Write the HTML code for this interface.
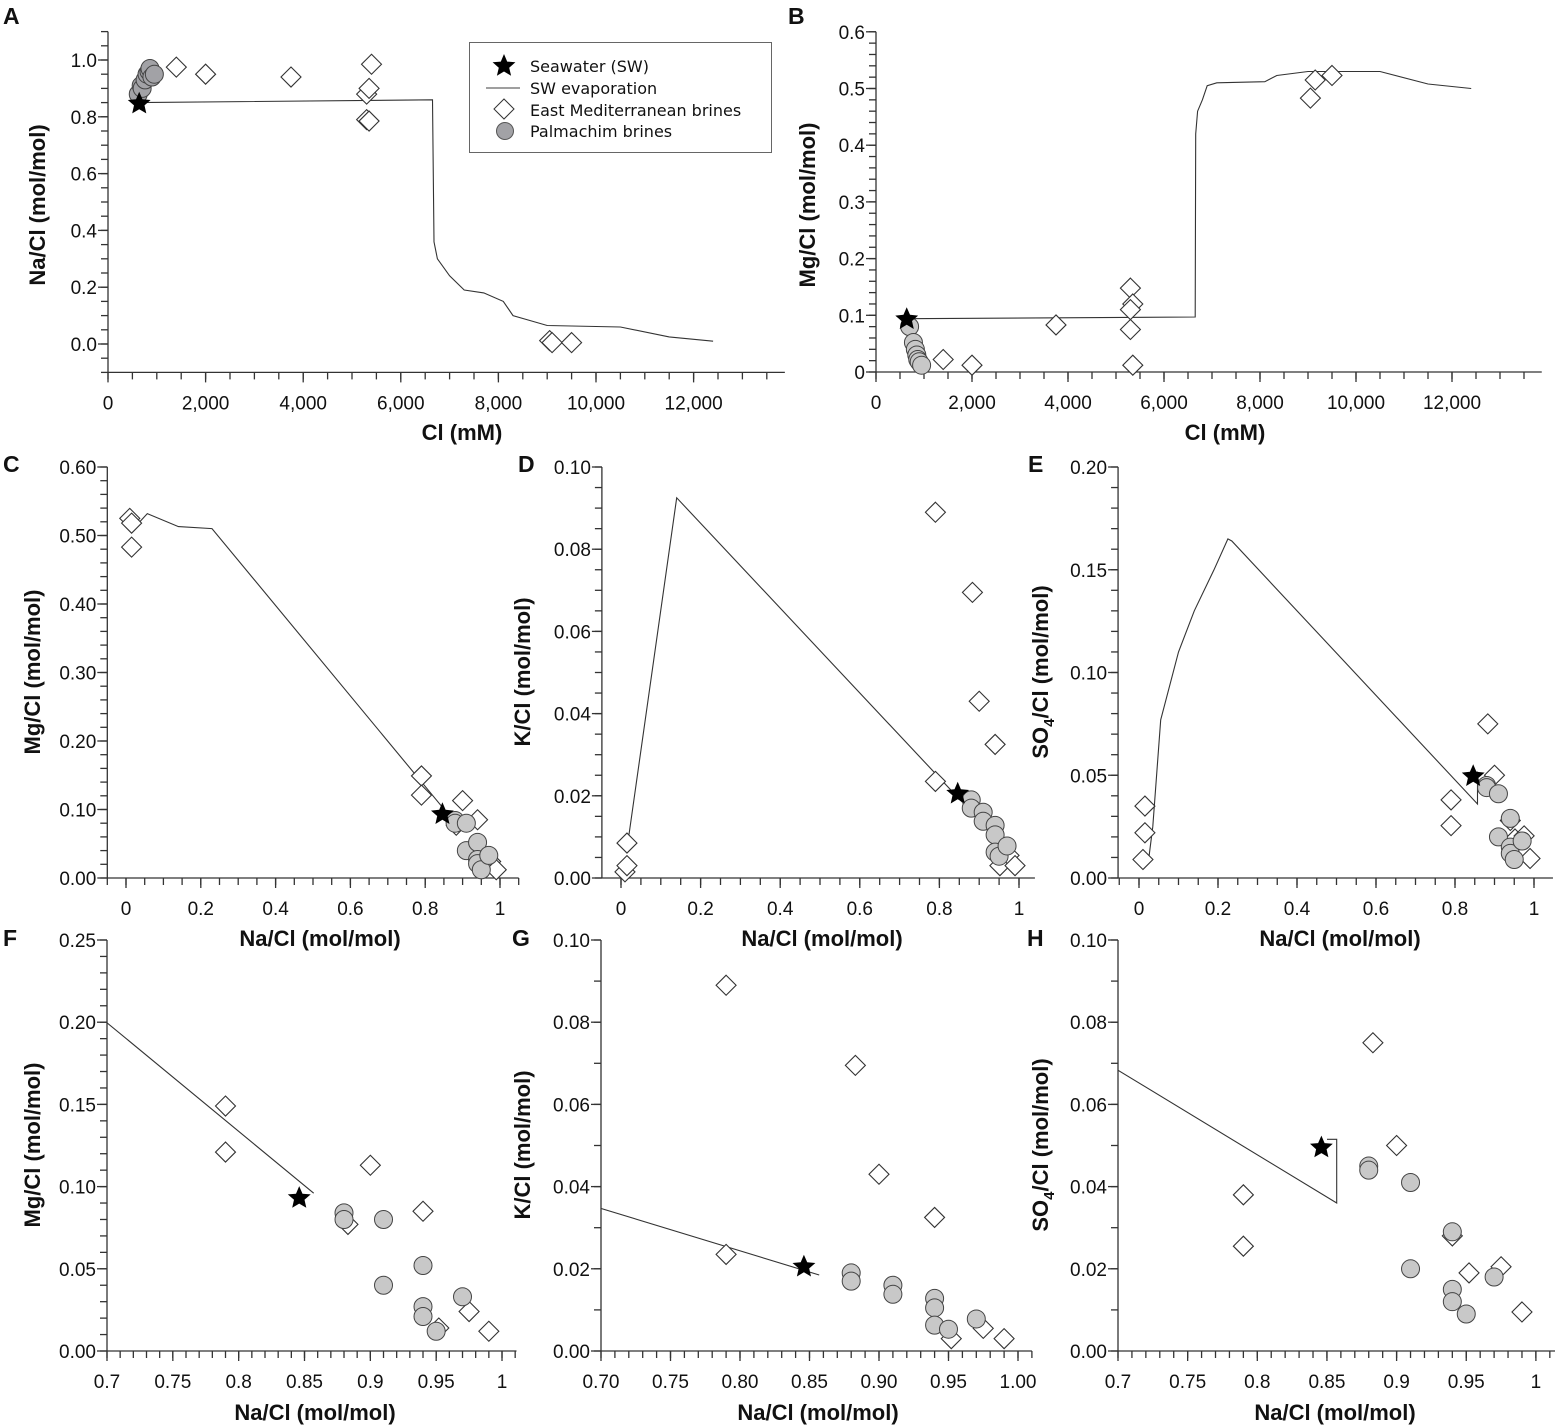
<!DOCTYPE html>
<html><head><meta charset="utf-8">
<style>
html,body{margin:0;padding:0;background:#fff;}
svg{display:block;}
text{font-family:"Liberation Sans",Arial,sans-serif;fill:#111;}
.tick{font-size:19px;}
.title{font-size:22px;font-weight:bold;}
.plab{font-size:23px;font-weight:bold;}
.leg{font-family:"DejaVu Sans",sans-serif;font-size:16px;}
</style></head>
<body>
<svg id="fig" width="1555" height="1426" viewBox="0 0 1555 1426" xmlns="http://www.w3.org/2000/svg">
<defs></defs>
</svg>
<script>
// ---------- DATA ----------
// Seawater
const swCl = 640, swNa = 0.846, swMg = 0.093, swK = 0.0205, swSO4 = 0.0495;
// Panel A/B: East Mediterranean brines vs Cl
const emClA = [1400, 2000, 3750, 5300, 5350, 5300, 5350, 5400, 9050, 9100, 9500];
const emNaA = [0.975, 0.95, 0.94, 0.79, 0.785, 0.88, 0.9, 0.985, 0.012, 0.005, 0.005];
const emClB = [1400, 2000, 3750, 5300, 5350, 5300, 5300, 5350, 9050, 9150, 9500];
const emMgB = [0.022, 0.012, 0.083, 0.148, 0.12, 0.11, 0.075, 0.012, 0.483, 0.515, 0.523];
// Palmachim vs Cl
const palClA = [620, 680, 700, 760, 800, 840, 860, 900, 950];
const palNaA = [0.88, 0.91, 0.9, 0.93, 0.95, 0.96, 0.97, 0.94, 0.95];
const palClB = [700, 780, 820, 850, 870, 900, 950];
const palMgB = [0.08, 0.052, 0.04, 0.03, 0.022, 0.018, 0.012];
// SW evaporation vs Cl
const evClA = [620, 6650, 6680, 6750, 7000, 7300, 7700, 8100, 8300, 8600, 9000, 10500, 11500, 12400];
const evNaA = [0.85, 0.86, 0.36, 0.3, 0.24, 0.19, 0.18, 0.15, 0.1, 0.085, 0.065, 0.06, 0.025, 0.01];
const evClB = [650, 6650, 6660, 6700, 6800, 6900, 7100, 8100, 8350, 9000, 10500, 11500, 12400];
const evMgB = [0.094, 0.097, 0.42, 0.46, 0.48, 0.505, 0.51, 0.512, 0.523, 0.53, 0.53, 0.508, 0.5];
// East Mediterranean brines (ratios)
const emNa = [0.01, 0.015, 0.015, 0.79, 0.79, 0.883, 0.9, 0.94, 0.952, 0.975, 0.99];
const emMg = [0.525, 0.518, 0.483, 0.149, 0.121, 0.077, 0.113, 0.085, 0.014, 0.024, 0.012];
const emK  = [0.0015, 0.003, 0.0085, 0.089, 0.0235, 0.0695, 0.043, 0.0325, 0.003, 0.0055, 0.003];
const emSO4 = [0.009, 0.022, 0.035, 0.038, 0.0255, 0.075, 0.05, 0.028, 0.019, 0.0205, 0.0095];
// Palmachim brines (ratios)
const palNa = [0.88, 0.88, 0.91, 0.91, 0.94, 0.94, 0.94, 0.95, 0.97];
const palMg = [0.084, 0.08, 0.08, 0.04, 0.052, 0.027, 0.021, 0.012, 0.033];
const palK  = [0.019, 0.017, 0.016, 0.0138, 0.0128, 0.0105, 0.0063, 0.0053, 0.0078];
const palSO4 = [0.045, 0.044, 0.041, 0.02, 0.029, 0.015, 0.012, 0.009, 0.018];
// SW evaporation (ratios)
const evNaMg = [0.037, 0.057, 0.14, 0.23, 0.857];
const evMg   = [0.52, 0.532, 0.513, 0.51, 0.096];
const evNaK  = [0.018, 0.14, 0.857];
const evK    = [0.0092, 0.0925, 0.0185];
const evNaS  = [0.025, 0.035, 0.055, 0.1, 0.14, 0.19, 0.225, 0.235, 0.857, 0.857, 0.85];
const evS    = [0.01, 0.025, 0.077, 0.11, 0.13, 0.15, 0.165, 0.164, 0.036, 0.0515, 0.0515];

// ---------- DRAWING ----------
const NS = "http://www.w3.org/2000/svg";
const svg = document.getElementById('fig');
function mk(tag, attrs, parent) {
  const e = document.createElementNS(NS, tag);
  for (const k in attrs) e.setAttribute(k, attrs[k]);
  (parent || svg).appendChild(e);
  return e;
}
let clipId = 0;

function panel(cfg) {
  const g = mk('g', {});
  
  
  const X = v => cfg.xo + (v - cfg.xv) * cfg.xs;
  const Y = v => cfg.yo - (v - cfg.yv) * cfg.ys;
  const inDom = (x, y) => x >= cfg.xmin && x <= cfg.xmax && y >= cfg.ymin && y <= cfg.ymax;
  const ax = X(cfg.xmin), axEnd = X(cfg.xmax);
  const ay = Y(cfg.ymin), ayTop = Y(cfg.ymax);
  const axes = mk('g', {stroke: '#333', 'stroke-width': 1.3, fill: 'none'}, g);
  
  
  mk('line', {x1: ax, y1: ay, x2: axEnd, y2: ay}, axes);
  mk('line', {x1: ax, y1: ay, x2: ax, y2: ayTop}, axes);
  const nx = Math.round((cfg.xmax - cfg.xmin) / cfg.xminor) + 2;
  for (let i = -2; i < nx; i++) {
    const v = Math.ceil(cfg.xmin / cfg.xminor) * cfg.xminor + i * cfg.xminor;
    if (v < cfg.xmin - 1e-9 || v > cfg.xmax + 1e-9) continue;
    mk('line', {x1: X(v), y1: ay, x2: X(v), y2: ay + 7}, axes);
  }
  const ny = Math.round((cfg.ymax - cfg.ymin) / cfg.yminor) + 2;
  for (let i = -2; i < ny; i++) {
    const v = Math.ceil(cfg.ymin / cfg.yminor) * cfg.yminor + i * cfg.yminor;
    if (v < cfg.ymin - 1e-9 || v > cfg.ymax + 1e-9) continue;
    mk('line', {x1: ax - 7, y1: Y(v), x2: ax, y2: Y(v)}, axes);
  }
  cfg.xticks.forEach((v, i) => {
    mk('line', {x1: X(v), y1: ay, x2: X(v), y2: ay + 10}, axes);
    const t = mk('text', {x: X(v), y: ay + 37, 'text-anchor': 'middle', class: 'tick'}, g);
    t.textContent = cfg.xlabels[i];
    
    
  });
  cfg.yticks.forEach((v, i) => {
    mk('line', {x1: ax - 10, y1: Y(v), x2: ax, y2: Y(v)}, axes);
    const t = mk('text', {x: ax - 11, y: Y(v) + 7, 'text-anchor': 'end', class: 'tick'}, g);
    t.textContent = cfg.ylabels[i];
    
    
  });
  const xt = mk('text', {x: cfg.xtx, y: cfg.xty, 'text-anchor': 'middle', class: 'title'}, g);
  xt.textContent = cfg.xtitle;
  
  
  const yt = mk('text', {x: 0, y: 0, 'text-anchor': 'middle', class: 'title', transform: `translate(${cfg.ytx},${cfg.yty}) rotate(-90)`}, g);
  yt.innerHTML = cfg.ytitle;
  
  
  const pl = mk('text', {x: cfg.lx, y: cfg.ly, class: 'plab'}, g);
  pl.textContent = cfg.id;
  
  
  const cid = 'clip' + (clipId++);
  const cp = mk('clipPath', {id: cid}, svg.querySelector('defs'));
  mk('rect', {x: ax, y: ayTop - 20, width: axEnd - ax + 20, height: ay - ayTop + 20}, cp);
  const plot = mk('g', {'clip-path': `url(#${cid})`}, g);
  
  
  const pts = cfg.lx_.map((v, i) => X(v).toFixed(1) + ',' + Y(cfg.ly_[i]).toFixed(1)).join(' ');
  const ln = mk('polyline', {points: pts, fill: 'none', stroke: '#333', 'stroke-width': 1.1}, plot);
  
  
  cfg.dx.forEach((v, i) => {
    if (!inDom(v, cfg.dy[i])) return;
    const cx = X(v), cy = Y(cfg.dy[i]), r = 10;
    const d = mk('polygon', {points: `${cx},${cy - r} ${cx + r},${cy} ${cx},${cy + r} ${cx - r},${cy}`, fill: '#fff', stroke: '#333', 'stroke-width': 1.1}, g);
    
    
  });
  cfg.cx.forEach((v, i) => {
    if (!inDom(v, cfg.cy[i])) return;
    const c = mk('circle', {cx: X(v), cy: Y(cfg.cy[i]), r: 9, fill: cfg.cfill, stroke: '#444', 'stroke-width': 1}, g);
    
    
  });
  const s = mk('polygon', {points: starPts(X(cfg.sx), Y(cfg.sy), 12, 5.5), fill: '#000'}, g);
  
  
}
function starPts(cx, cy, R, r) {
  const p = [];
  for (let i = 0; i < 10; i++) {
    const a = -Math.PI / 2 + i * Math.PI / 5, rr = i % 2 ? r : R;
    p.push((cx + rr * Math.cos(a)).toFixed(1) + ',' + (cy + rr * Math.sin(a)).toFixed(1));
  }
  return p.join(' ');
}
const rng = (a, b, s) => { const o = []; for (let v = a; v <= b + 1e-9; v += s) o.push(+v.toFixed(4)); return o; };
const NA_T = 'Na/Cl (mol/mol)';

panel({id: 'A', xo: 108, xv: 0, xs: 0.0488, yo: 344, yv: 0, ys: 284,
  xmin: 0, xmax: 13870, ymin: -0.1, ymax: 1.1, xminor: 500, yminor: 0.05,
  xticks: rng(0, 12000, 2000), xlabels: ['0', '2,000', '4,000', '6,000', '8,000', '10,000', '12,000'],
  yticks: rng(0, 1, 0.2), ylabels: ['0.0', '0.2', '0.4', '0.6', '0.8', '1.0'],
  xtitle: 'Cl (mM)', xtx: 462, xty: 440, ytitle: 'Na/Cl (mol/mol)', ytx: 45, yty: 205, lx: 3, ly: 24,
  lx_: evClA, ly_: evNaA, dx: emClA, dy: emNaA, cx: palClA, cy: palNaA, cfill: '#a2a2a6', sx: swCl, sy: swNa});
panel({id: 'B', xo: 876, xv: 0, xs: 0.048, yo: 372, yv: 0, ys: 567,
  xmin: 0, xmax: 13870, ymin: 0, ymax: 0.6, xminor: 500, yminor: 0.02,
  xticks: rng(0, 12000, 2000), xlabels: ['0', '2,000', '4,000', '6,000', '8,000', '10,000', '12,000'],
  yticks: rng(0, 0.6, 0.1), ylabels: ['0', '0.1', '0.2', '0.3', '0.4', '0.5', '0.6'],
  xtitle: 'Cl (mM)', xtx: 1225, xty: 440, ytitle: 'Mg/Cl (mol/mol)', ytx: 815, yty: 205, lx: 788, ly: 24,
  lx_: evClB, ly_: evMgB, dx: emClB, dy: emMgB, cx: palClB, cy: palMgB, cfill: '#c8c8c8', sx: swCl, sy: swMg});
panel({id: 'C', xo: 126, xv: 0, xs: 374, yo: 878, yv: 0, ys: 685,
  xmin: -0.05, xmax: 1.05, ymin: 0, ymax: 0.6, xminor: 0.05, yminor: 0.02,
  xticks: rng(0, 1, 0.2), xlabels: ['0', '0.2', '0.4', '0.6', '0.8', '1'],
  yticks: rng(0, 0.6, 0.1), ylabels: ['0.00', '0.10', '0.20', '0.30', '0.40', '0.50', '0.60'],
  xtitle: NA_T, xtx: 320, xty: 946, ytitle: 'Mg/Cl (mol/mol)', ytx: 40, yty: 672, lx: 3, ly: 472,
  lx_: evNaMg, ly_: evMg, dx: emNa, dy: emMg, cx: palNa, cy: palMg, cfill: '#c8c8c8', sx: swNa, sy: swMg});
panel({id: 'D', xo: 621, xv: 0, xs: 398, yo: 878, yv: 0, ys: 4110,
  xmin: -0.048, xmax: 1.04, ymin: 0, ymax: 0.1, xminor: 0.05, yminor: 0.005,
  xticks: rng(0, 1, 0.2), xlabels: ['0', '0.2', '0.4', '0.6', '0.8', '1'],
  yticks: rng(0, 0.1, 0.02), ylabels: ['0.00', '0.02', '0.04', '0.06', '0.08', '0.10'],
  xtitle: NA_T, xtx: 822, xty: 946, ytitle: 'K/Cl (mol/mol)', ytx: 530, yty: 672, lx: 518, ly: 472,
  lx_: evNaK, ly_: evK, dx: emNa, dy: emK, cx: palNa, cy: palK, cfill: '#c8c8c8', sx: swNa, sy: swK});
panel({id: 'E', xo: 1139, xv: 0, xs: 395, yo: 878, yv: 0, ys: 2055,
  xmin: -0.053, xmax: 1.048, ymin: 0, ymax: 0.2, xminor: 0.05, yminor: 0.01,
  xticks: rng(0, 1, 0.2), xlabels: ['0', '0.2', '0.4', '0.6', '0.8', '1'],
  yticks: rng(0, 0.2, 0.05), ylabels: ['0.00', '0.05', '0.10', '0.15', '0.20'],
  xtitle: NA_T, xtx: 1340, xty: 946, ytitle: 'SO<tspan font-size="15" dy="6">4</tspan><tspan dy="-6">/Cl (mol/mol)</tspan>', ytx: 1048, yty: 672, lx: 1028, ly: 472,
  lx_: evNaS, ly_: evS, dx: emNa, dy: emSO4, cx: palNa, cy: palSO4, cfill: '#c8c8c8', sx: swNa, sy: swSO4});
panel({id: 'F', xo: 107, xv: 0.7, xs: 1316.7, yo: 1351, yv: 0, ys: 1644,
  xmin: 0.7, xmax: 1.011, ymin: 0, ymax: 0.25, xminor: 0.01, yminor: 0.01,
  xticks: rng(0.7, 1, 0.05), xlabels: ['0.7', '0.75', '0.8', '0.85', '0.9', '0.95', '1'],
  yticks: rng(0, 0.25, 0.05), ylabels: ['0.00', '0.05', '0.10', '0.15', '0.20', '0.25'],
  xtitle: NA_T, xtx: 315, xty: 1420, ytitle: 'Mg/Cl (mol/mol)', ytx: 40, yty: 1145, lx: 3, ly: 946,
  lx_: evNaMg, ly_: evMg, dx: emNa, dy: emMg, cx: palNa, cy: palMg, cfill: '#c8c8c8', sx: swNa, sy: swMg});
panel({id: 'G', xo: 601, xv: 0.7, xs: 1390, yo: 1351, yv: 0, ys: 4110,
  xmin: 0.7, xmax: 1.01, ymin: 0, ymax: 0.1, xminor: 0.01, yminor: 0.01,
  xticks: rng(0.7, 1, 0.05), xlabels: ['0.70', '0.75', '0.80', '0.85', '0.90', '0.95', '1.00'],
  yticks: rng(0, 0.1, 0.02), ylabels: ['0.00', '0.02', '0.04', '0.06', '0.08', '0.10'],
  xtitle: NA_T, xtx: 818, xty: 1420, ytitle: 'K/Cl (mol/mol)', ytx: 530, yty: 1145, lx: 512, ly: 946,
  lx_: evNaK, ly_: evK, dx: emNa, dy: emK, cx: palNa, cy: palK, cfill: '#c8c8c8', sx: swNa, sy: swK});
panel({id: 'H', xo: 1118, xv: 0.7, xs: 1393, yo: 1351, yv: 0, ys: 4110,
  xmin: 0.7, xmax: 1.0215, ymin: 0, ymax: 0.1, xminor: 0.01, yminor: 0.01,
  xticks: rng(0.7, 1, 0.05), xlabels: ['0.7', '0.75', '0.8', '0.85', '0.9', '0.95', '1'],
  yticks: rng(0, 0.1, 0.02), ylabels: ['0.00', '0.02', '0.04', '0.06', '0.08', '0.10'],
  xtitle: NA_T, xtx: 1335, xty: 1420, ytitle: 'SO<tspan font-size="15" dy="6">4</tspan><tspan dy="-6">/Cl (mol/mol)</tspan>', ytx: 1048, yty: 1145, lx: 1027, ly: 946,
  lx_: evNaS, ly_: evS, dx: emNa, dy: emSO4, cx: palNa, cy: palSO4, cfill: '#c8c8c8', sx: swNa, sy: swSO4});

// ---------- LEGEND ----------
const lg = mk('g', {});


mk('rect', {x: 469.5, y: 42.5, width: 302, height: 110, fill: '#fff', stroke: '#666', 'stroke-width': 1}, lg);
const ls = mk('polygon', {points: starPts(504, 66, 12, 5.5), fill: '#000'}, lg);


mk('line', {x1: 486, y1: 88, x2: 520, y2: 88, stroke: '#666', 'stroke-width': 1.2}, lg);
mk('polygon', {points: '504,99 514,109 504,119 494,109', fill: '#fff', stroke: '#333', 'stroke-width': 1}, lg);
mk('circle', {cx: 505, cy: 131, r: 8.5, fill: '#a2a2a6', stroke: '#555', 'stroke-width': 1}, lg);
const legTexts = ['Seawater (SW)', 'SW evaporation', 'East Mediterranean brines', 'Palmachim brines'];
const legY = [72, 94, 116, 137];
legTexts.forEach((s, i) => {
  const t = mk('text', {x: 530, y: legY[i], class: 'leg'}, lg);
  t.textContent = s;
  
  
});
</script>
</body></html>
